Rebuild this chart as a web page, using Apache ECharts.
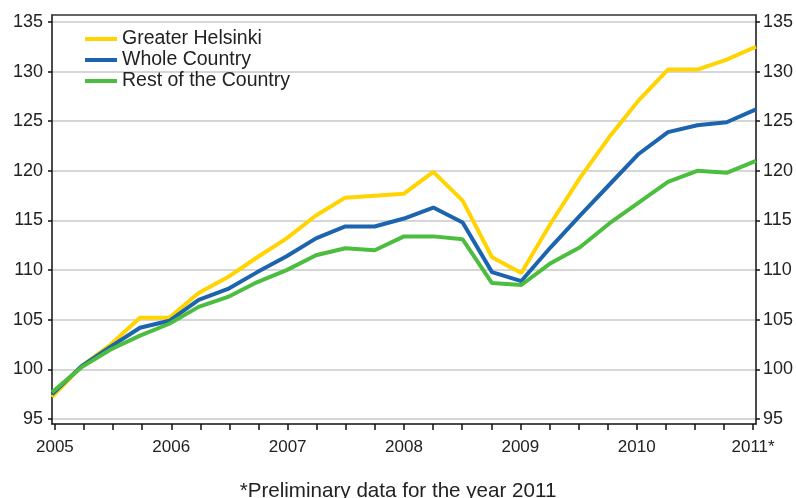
<!DOCTYPE html>
<html>
<head>
<meta charset="utf-8">
<script src="https://cdn.jsdelivr.net/npm/echarts@6/dist/echarts.min.js"></script>
<style>html,body{margin:0;padding:0;background:#fff}#c{width:796px;height:498px}</style>
</head>
<body>
<div id="c"></div>
<script>
// Quarterly index, 2005 Q1 ... 2011 Q1 (25 points)
const quarters = [0,1,2,3,4,5,6,7,8,9,10,11,12,13,14,15,16,17,18,19,20,21,22,23,24];
const yearTickPositions = [0,4,8,12,16,20,24];
const yearLabels = ['2005','2006','2007','2008','2009','2010','2011*'];
const yTicks = [95,100,105,110,115,120,125,130,135];

const greaterHelsinki = [97.2,100.3,102.5,105.2,105.2,107.7,109.3,111.3,113.2,115.5,117.3,117.5,117.7,119.9,117.0,111.3,109.7,114.7,119.3,123.4,127.1,130.2,130.2,131.2,132.5];
const wholeCountry    = [97.5,100.3,102.3,104.2,104.9,107.0,108.1,109.8,111.4,113.2,114.4,114.4,115.2,116.3,114.8,109.8,108.9,112.3,115.5,118.6,121.7,123.9,124.6,124.9,126.2];
const restOfCountry   = [97.7,100.2,102.0,103.4,104.6,106.3,107.3,108.8,110.0,111.5,112.2,112.0,113.4,113.4,113.1,108.7,108.5,110.7,112.3,114.7,116.8,118.9,120.0,119.8,121.0];

const seriesNames = ['Greater Helsinki','Whole Country','Rest of the Country'];
const seriesColors = ['#FFD400','#1C64AE','#4CBD3E'];
const seriesData = [greaterHelsinki, wholeCountry, restOfCountry];

const chart = echarts.init(document.getElementById('c'), null, {renderer:'canvas'});
const FONT = '"Liberation Sans", Arial, sans-serif';

const yAxisCommon = {
  type:'value', min:94.5, max:135.7,
  axisLine:{show:true, onZero:false, lineStyle:{color:'#111', width:1.5}},
  axisTick:{show:true, length:4, inside:false, customValues:yTicks, lineStyle:{color:'#111', width:1.5}},
  axisLabel:{show:true, customValues:yTicks, color:'#222', fontSize:18, fontFamily:FONT},
};

chart.setOption({
  animation:false,
  backgroundColor:'#fff',
  title:{
    text:'*Preliminary data for the year 2011',
    left:'center', top:476,
    textStyle:{fontSize:20.6, fontWeight:'normal', color:'#222', fontFamily:FONT}
  },
  legend:{
    orient:'vertical', left:85, top:29, padding:0,
    itemWidth:32, itemHeight:4, itemGap:1,
    icon:'rect',
    textStyle:{fontSize:19.5, color:'#222', fontFamily:FONT, lineHeight:20},
    data:seriesNames
  },
  grid:{left:52, right:37, top:15, bottom:74, show:false, containLabel:false},
  xAxis:[
    {
      type:'value', min:-0.1, max:24.1, position:'bottom',
      axisLine:{show:true, onZero:false, lineStyle:{color:'#111', width:1.5}},
      axisTick:{show:true, length:6, customValues:quarters, lineStyle:{color:'#111', width:1.5}},
      axisLabel:{show:true, customValues:yearTickPositions, margin:15, color:'#222', fontSize:17, fontFamily:FONT,
        formatter:function(v){ const i = yearTickPositions.indexOf(Math.round(v)); return i>=0 ? yearLabels[i] : ''; }},
      splitLine:{show:false}
    },
    {
      type:'value', min:0, max:24, show:false, position:'bottom',
      axisLine:{onZero:false},
      splitLine:{show:false}
    },
    {
      type:'value', min:0, max:24, position:'top',
      axisLine:{show:true, onZero:false, lineStyle:{color:'#333', width:1.5}},
      axisTick:{show:false}, axisLabel:{show:false}, splitLine:{show:false}
    }
  ],
  yAxis:[
    Object.assign({}, yAxisCommon, {
      position:'left',
      axisLabel:Object.assign({}, yAxisCommon.axisLabel, {margin:9}),
      splitLine:{show:true, lineStyle:{color:'#c8c8c8', width:1.5}}
    }),
    Object.assign({}, yAxisCommon, {
      position:'right',
      axisLabel:Object.assign({}, yAxisCommon.axisLabel, {margin:7}),
      splitLine:{show:false}
    })
  ],
  series: seriesNames.map(function(name, k){
    return {
      name:name, type:'line', xAxisIndex:1, yAxisIndex:0,
      showSymbol:false, symbol:'none',
      lineStyle:{color:seriesColors[k], width:4},
      itemStyle:{color:seriesColors[k]},
      data: quarters.map(function(q,i){ return [q, seriesData[k][i]]; })
    };
  })
});
</script>
</body>
</html>
